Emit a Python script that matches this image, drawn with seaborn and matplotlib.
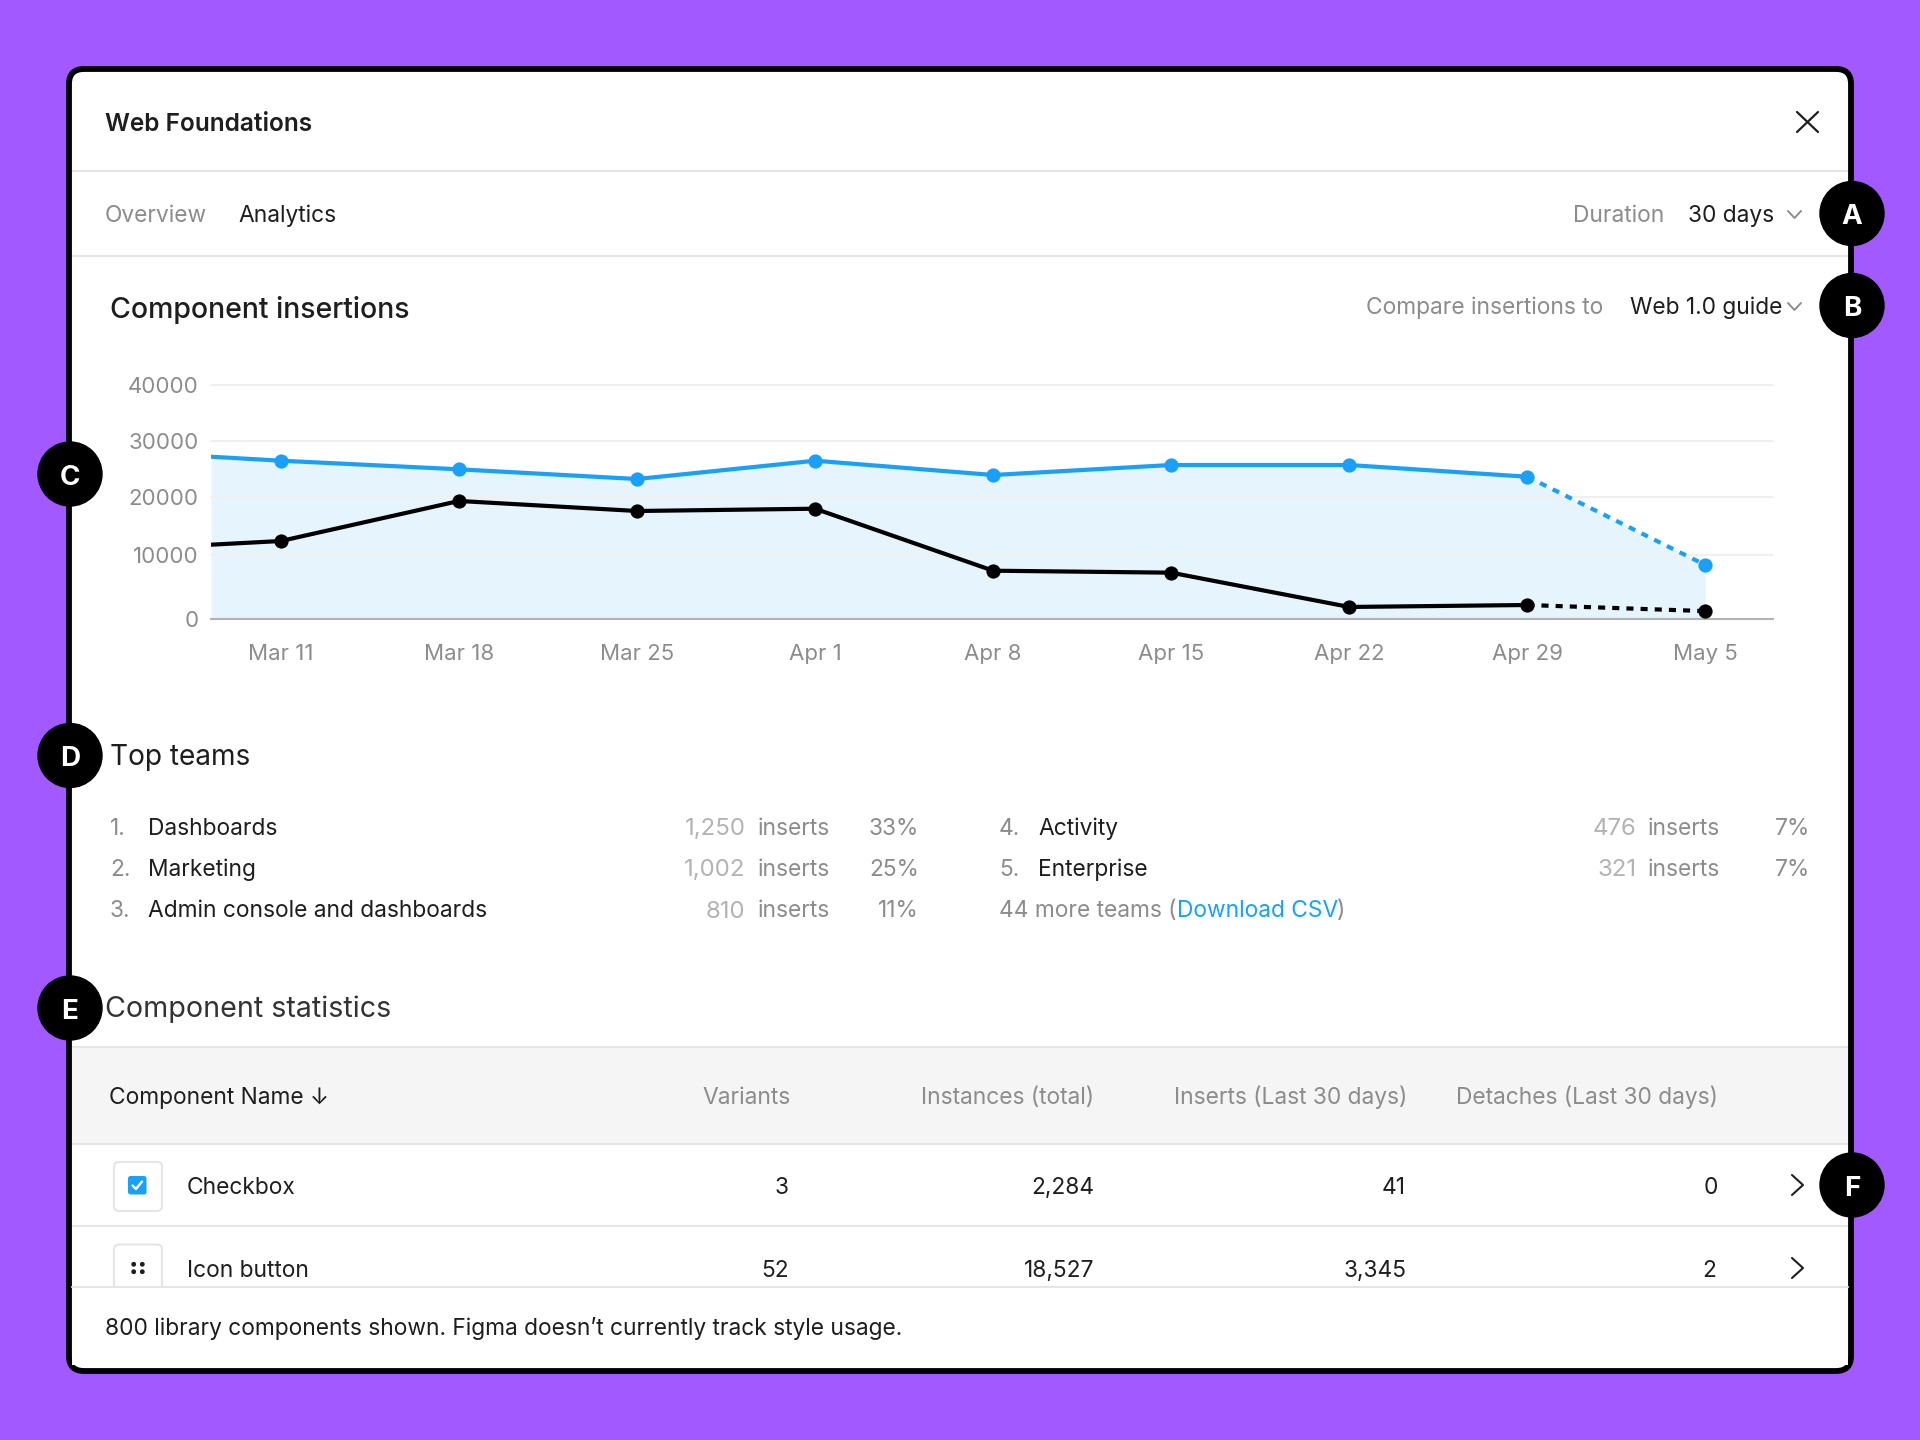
import numpy as np
import pandas as pd
import seaborn as sns
import matplotlib.pyplot as plt
from matplotlib.patches import FancyBboxPatch, Rectangle, Circle

# chart data
weeks = ["Mar 11", "Mar 18", "Mar 25", "Apr 1", "Apr 8", "Apr 15", "Apr 22", "Apr 29", "May 5"]
insertions = [26430, 24890, 23160, 26430, 23875, 25660, 25660, 23570, 8470]
compare = [12440, 19270, 17560, 17950, 7570, 7260, 1850, 2160, 1200]
# the lines run in from the left edge of the plot, value before the first week
insertions_lead = 27140
compare_lead = 11810
y_ticks = [0, 10000, 20000, 30000, 40000]

# table and list data
teams_left = [("1.", "Dashboards", "1,250", "33%"), ("2.", "Marketing", "1,002", "25%"),
              ("3.", "Admin console and dashboards", "810", "11%")]
teams_right = [("4.", "Activity", "476", "7%"), ("5.", "Enterprise", "321", "7%")]
columns = ["Variants", "Instances (total)", "Inserts (Last 30 days)", "Detaches (Last 30 days)"]
rows = [("Checkbox", "3", "2,284", "41", "0"), ("Icon button", "52", "18,527", "3,345", "2")]

PURPLE = "#A259FF"
BLUE = "#18A0FB"
FILL = "#E6F4FE"
DARK = "#1E1E1E"
GRAY = "#8C8C8C"
LINE = "#E5E5E5"
W, H = 1920, 1440
BODY = 16.4
COUNT = 17.3

sns.set_theme(style="white")
plt.rcParams["font.family"] = ["Inter", "DejaVu Sans"]

fig = plt.figure(figsize=(19.2, 14.4), dpi=100, facecolor=PURPLE)

# whole figure axes in pixels for the dialog around the chart
ui = fig.add_axes([0, 0, 1, 1], zorder=0)
ui.set_xlim(0, W)
ui.set_ylim(H, 0)
ui.axis("off")


def label(x, y, s, color=DARK, size=BODY, ha="left", **kw):
    # y is the middle of the capitals, so one row of text shares a baseline
    return ui.text(x, y + 0.6 + 0.36 * size * 100 / 72, s, color=color, fontsize=size, ha=ha, va="baseline", **kw)


def hline(y, color=LINE, lw=1.5):
    ui.plot([72, 1848], [y, y], color=color, lw=lw, solid_capstyle="butt", zorder=2)


def chevron_down(x0, x1, y0, y1):
    ui.plot([x0, (x0 + x1) / 2, x1], [y0, y1, y0], color=GRAY, lw=1.4, zorder=3)


def chevron_right(x0, x1, y0, y1):
    ui.plot([x0, x1, x0], [y0, (y0 + y1) / 2, y1], color=DARK, lw=1.5, zorder=3)


def badge(x, y, s):
    ui.add_patch(Circle((x, y), 32, color="black", zorder=5))
    ui.text(x, y + 1, s, color="white", fontsize=20, fontweight="bold", ha="center",
            va="center_baseline", zorder=6)


ui.add_patch(FancyBboxPatch((69, 69), 1782, 1302, boxstyle="round,pad=0,rounding_size=15",
                            fc="white", ec="black", lw=4.2, zorder=1))

# header
label(105, 121.5, "Web Foundations", size=17.6, fontweight="semibold")
ui.plot([1797, 1818], [112, 132], color=DARK, lw=1.6, zorder=3)
ui.plot([1797, 1818], [132, 112], color=DARK, lw=1.6, zorder=3)
hline(171)
label(105, 213, "Overview", color=GRAY)
label(238, 213, "Analytics")
label(1664, 213, "Duration", color=GRAY, ha="right")
label(1688.5, 213, "30 days")
chevron_down(1788, 1801, 211, 218)
hline(256)

label(109.5, 307.5, "Component insertions", size=20.5, fontweight="medium")
label(1603.5, 305.5, "Compare insertions to", color=GRAY, ha="right")
label(1630, 305.5, "Web 1.0 guide")
chevron_down(1788, 1801, 303, 310)

# top teams
label(109.5, 754, "Top teams", size=20.2)
for i, (rank, name, inserts, share) in enumerate(teams_left):
    y = [826, 867, 908.5][i]
    label(110, y, rank, color=GRAY)
    label(148, y, name)
    label(745.5, y, inserts, color="#B3B3B3", size=COUNT, ha="right")
    label(758, y, "inserts", color=GRAY)
    label(919, y, share, color=GRAY, ha="right")
for i, (rank, name, inserts, share) in enumerate(teams_right):
    y = [826, 867][i]
    label(999, y, rank, color=GRAY)
    label(1038, y, name)
    label(1637, y, inserts, color="#B3B3B3", size=COUNT, ha="right")
    label(1648, y, "inserts", color=GRAY)
    label(1810, y, share, color=GRAY, ha="right")
label(999, 908.5, "44 more teams (", color=GRAY)
label(1177, 908.5, "Download CSV", color=BLUE)
label(1337, 908.5, ")", color=GRAY)

# statistics table
label(105, 1006.5, "Component statistics", size=20.6, color="#333333")
ui.add_patch(Rectangle((72, 1047), 1776, 97, fc="#F5F5F5", ec="none", zorder=1.5))
hline(1047)
hline(1144)
label(109, 1095, "Component Name ↓")
col_right = [791, 1094, 1407, 1718]
for x, s in zip(col_right, columns):
    label(x, 1095, s, color=GRAY, ha="right")

row_y = [1185, 1268]
val_right = [[788.5, 1094, 1406, 1718], [788.5, 1094, 1407, 1716]]
for y, row, xs in zip(row_y, rows, val_right):
    label(187, y, row[0])
    for x, s in zip(xs, row[1:]):
        label(x, y, s, ha="right")
    chevron_right(1792, 1803, y - 10, y + 10)
hline(1226)

# row icons
ui.add_patch(FancyBboxPatch((114, 1162), 48, 49, boxstyle="round,pad=0,rounding_size=5",
                            fc="white", ec=LINE, lw=1.5, zorder=2))
ui.add_patch(FancyBboxPatch((128, 1176), 18.5, 18.5, boxstyle="round,pad=0,rounding_size=2.5",
                            fc=BLUE, ec="none", zorder=3))
ui.plot([132.5, 136, 142], [1185.5, 1189, 1181.5], color="white", lw=1.7, zorder=4)
ui.add_patch(FancyBboxPatch((114, 1244.5), 48, 60, boxstyle="round,pad=0,rounding_size=5",
                            fc="white", ec=LINE, lw=1.5, zorder=2))
for cx in (133.7, 142.3):
    for cy in (1264.3, 1271.7):
        ui.add_patch(Circle((cx, cy), 1.7, color=DARK, zorder=3))

# footer covers the clipped row
ui.add_patch(Rectangle((72, 1287), 1776, 78, fc="white", ec="none", zorder=2.5))
ui.plot([72, 1848], [1287, 1287], color=LINE, lw=1.5, zorder=3)
label(105, 1326.5, "800 library components shown. Figma doesn’t currently track style usage.", zorder=3)

for (bx, by), s in zip([(1852, 213.5), (1852, 305.5), (70, 474), (70, 755.5), (70, 1008), (1852, 1185)], "ABCDEF"):
    badge(bx, by, s)

# the chart itself, axes box given in figure pixels
ax_l, ax_r, ax_top, ax_bottom = 211, 1773, 384.7, 618.7
ax = fig.add_axes([ax_l / W, 1 - ax_bottom / H, (ax_r - ax_l) / W, (ax_bottom - ax_top) / H], zorder=1)
ax.patch.set_alpha(0)

# gridlines in the reference are not evenly spaced, so the y scale follows them
grid_px = [0, 63.4, 122, 178, 234]
ax.set_yscale("function", functions=(lambda v: np.interp(v, y_ticks, grid_px),
                                     lambda p: np.interp(p, grid_px, y_ticks)))

x_left, x_right = -0.393, 8.38
pos = list(range(len(weeks)))
df = pd.DataFrame({"pos": pos, "insertions": insertions, "compare": compare})
solid = df[df.pos <= 7]
dashed = df[df.pos >= 7]

ax.fill_between([x_left] + pos, [insertions_lead] + insertions, 0, color=FILL, lw=0, zorder=1)

for col, lead, color in [("insertions", insertions_lead, BLUE), ("compare", compare_lead, "black")]:
    solid_x = [x_left] + solid.pos.tolist()
    solid_y = [lead] + solid[col].tolist()
    sns.lineplot(x=solid_x, y=solid_y, ax=ax, color=color, lw=3, estimator=None, sort=False, zorder=3)
    sns.lineplot(x=dashed.pos, y=dashed[col], ax=ax, color=color, lw=3, estimator=None, sort=False,
                 linestyle=(0, (1.7, 1.7)), zorder=3)
    sns.scatterplot(x=df.pos, y=df[col], ax=ax, color=color, s=105, linewidth=0, clip_on=False, zorder=4)

ax.set_xlim(x_left, x_right)
ax.set_ylim(0, 40000)
ax.set_xlabel("")
ax.set_ylabel("")
ax.set_xticks(pos, weeks)
ax.set_yticks(y_ticks, [str(v) for v in y_ticks])
ax.minorticks_off()
ax.set_axisbelow("line")
ax.grid(axis="y", color="#F0F0F0", lw=1.5)
for gl in ax.get_ygridlines():
    gl.set_clip_on(False)
ax.grid(axis="x", visible=False)
sns.despine(ax=ax, left=True)
ax.spines["bottom"].set_color("#B3B3B3")
ax.spines["bottom"].set_linewidth(1.5)
ax.tick_params(axis="x", length=6.5, width=0.8, color="#B3B3B3", labelcolor=GRAY, labelsize=16, pad=11.5)
ax.tick_params(axis="y", length=0, labelcolor=GRAY, labelsize=16, pad=9)

fig.savefig("out.png", dpi=100, facecolor=PURPLE)
